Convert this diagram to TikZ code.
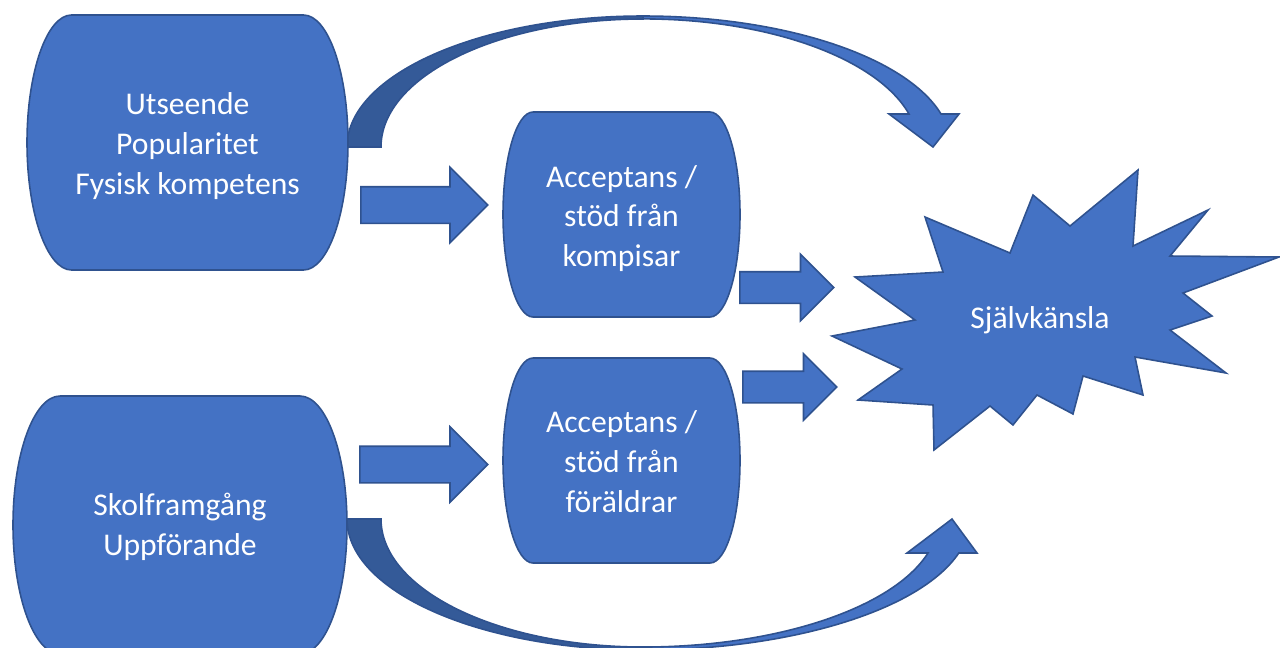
\documentclass[tikz,border=0pt]{standalone}
\usepackage{fontspec}
\setmainfont{Carlito}
\usetikzlibrary{shapes.arrows}
\definecolor{boxblue}{RGB}{68,114,196}
\definecolor{edgeblue}{RGB}{47,82,143}
\definecolor{shadeblue}{RGB}{52,90,152}
\tikzset{
  boxtext/.style={text=white, align=center, font=\fontsize{18}{22.7}\selectfont},
  blob/.style={fill=boxblue, draw=edgeblue, line width=0.9pt},
  backface/.style={fill=shadeblue, draw=edgeblue, line width=0.9pt},
  frontface/.style={fill=boxblue, draw=edgeblue, line width=0.9pt},
  blockarrow/.style={single arrow, single arrow head indent=0pt, fill=boxblue, draw=edgeblue, line width=0.9pt, inner xsep=0pt, anchor=tail, minimum height=#1},
}
\begin{document}
\begin{tikzpicture}[x=0.02cm, y=-0.02cm]
\useasboundingbox (0,0) rectangle (1280,647);
\clip (0,0) rectangle (1280,647);
\draw[backface] (347,147) arc[start angle=180, end angle=270, x radius=296, y radius=131] -- (643,19) arc[start angle=270, end angle=180, x radius=262, y radius=128] -- cycle;
\draw[frontface] (643,16) arc[start angle=270, end angle=345.4, x radius=308, y radius=131] -- (959,114) -- (933,147) -- (889,114) -- (909,114) arc[start angle=345.1, end angle=270, x radius=275, y radius=128] -- cycle;
\draw[backface] (347,519) arc[start angle=180, end angle=90, x radius=296, y radius=131] -- (643,647) arc[start angle=90, end angle=180, x radius=262, y radius=128] -- cycle;
\draw[frontface] (643,650) arc[start angle=90, end angle=15.05, x radius=327, y radius=131] -- (977,553) -- (952,519) -- (907,553) -- (928,553) arc[start angle=15.4, end angle=90, x radius=296, y radius=128] -- cycle;
\draw[blob] (303.5,15) arc[start angle=270, end angle=450, x radius=44.5, y radius=127.5] -- (71.5,270) arc[start angle=90, end angle=270, x radius=44.5, y radius=127.5] -- cycle;
\draw[blob] (300,396) arc[start angle=270, end angle=450, x radius=47, y radius=129] -- (60,654) arc[start angle=90, end angle=270, x radius=47, y radius=129] -- cycle;
\draw[blob] (710,112) arc[start angle=270, end angle=450, x radius=30, y radius=102.5] -- (533,317) arc[start angle=90, end angle=270, x radius=30, y radius=102.5] -- cycle;
\draw[blob] (710,358) arc[start angle=270, end angle=450, x radius=30, y radius=102.5] -- (533,563) arc[start angle=90, end angle=270, x radius=30, y radius=102.5] -- cycle;
\draw[blob, line join=miter] (1138,170) -- (1133,246) -- (1208,210) -- (1170,256) -- (1279,257) -- (1183,293) -- (1212,316) -- (1170,330) -- (1226,373) -- (1135,357) -- (1143,395) -- (1083,376) -- (1073,414) -- (1037,395) -- (1013,425) -- (990,406) -- (934,450) -- (933,405) -- (858,400) -- (902,369) -- (832,336) -- (915,320) -- (855,277) -- (943,272) -- (925,217) -- (1010,253) -- (1033,195) -- (1070,226) -- cycle;
\node[blockarrow=2.54cm, inner ysep=0.35cm, single arrow head extend=0.39cm] (toPeers) at (360,205) {};
\node[blockarrow=2.56cm, inner ysep=0.35cm, single arrow head extend=0.39cm] (toParents) at (359,464.5) {};
\node[blockarrow=1.88cm, inner ysep=0.3cm, single arrow head extend=0.35cm] (peersOut) at (739,287.5) {};
\node[blockarrow=1.88cm, inner ysep=0.3cm, single arrow head extend=0.35cm] (parentsOut) at (742,387) {};
\node[boxtext] (looks) at (187.5,146) {Utseende\\Popularitet\\Fysisk kompetens};
\node[boxtext] (school) at (180,527) {Skolframgång\\Uppförande};
\node[boxtext] (peers) at (621.5,218.5) {Acceptans /\\stöd från\\kompisar};
\node[boxtext] (parents) at (621.5,462) {Acceptans /\\stöd från\\föräldrar};
\node[boxtext] (self) at (1040,320) {Självkänsla};
\end{tikzpicture}
\end{document}
